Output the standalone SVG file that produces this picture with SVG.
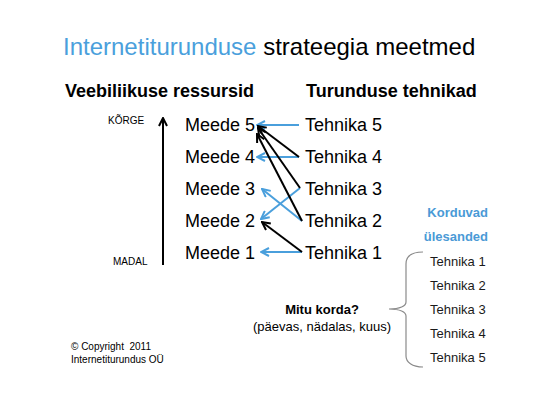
<svg xmlns="http://www.w3.org/2000/svg" width="538" height="402" viewBox="0 0 538 402">
<style>
text{font-family:"Liberation Sans",Arial,sans-serif;fill:#000}
.title{font-size:24px}
.blue{fill:#4a9fdc}
.head{font-size:18px;font-weight:bold}
.item{font-size:18px}
.small{font-size:10px}
.list{font-size:13px;fill:#1a1a1a}
.lbl{font-size:13px;font-weight:bold}
.kb{font-size:13px;font-weight:bold;fill:#4a9ad6}
.copy{font-size:10px}
.cb{stroke:#4a9fdc;stroke-width:2;fill:none}
.ck{stroke:#000;stroke-width:2;fill:none}
</style>
<defs>
<marker id="ab" viewBox="0 0 10 10" refX="9" refY="5" markerWidth="10" markerHeight="10" markerUnits="userSpaceOnUse" orient="auto">
<path d="M1,1 L9,5 L1,9" fill="none" stroke="#4a9fdc" stroke-width="2"/>
</marker>
<marker id="ak" viewBox="0 0 10 10" refX="9" refY="5" markerWidth="10" markerHeight="10" markerUnits="userSpaceOnUse" orient="auto">
<path d="M1,1 L9,5 L1,9" fill="none" stroke="#000" stroke-width="2"/>
</marker>
</defs>
<rect width="538" height="402" fill="#fff"/>
<g id="title"><text class="title" x="63" y="55"><tspan class="blue">Internetiturunduse</tspan> strateegia meetmed</text></g>
<g id="head-left"><text class="head" x="65" y="97">Veebiliikuse ressursid</text></g>
<g id="head-right"><text class="head" x="306" y="97">Turunduse tehnikad</text></g>
<g id="korge"><text class="small" x="108" y="124">KÕRGE</text></g>
<g id="madal"><text class="small" x="113" y="265">MADAL</text></g>
<g id="meede5"><text class="item" x="185" y="131">Meede 5</text></g>
<g id="meede4"><text class="item" x="185" y="163">Meede 4</text></g>
<g id="meede3"><text class="item" x="185" y="195">Meede 3</text></g>
<g id="meede2"><text class="item" x="185" y="227">Meede 2</text></g>
<g id="meede1"><text class="item" x="185" y="259">Meede 1</text></g>
<g id="tehnika5"><text class="item" x="305" y="131">Tehnika 5</text></g>
<g id="tehnika4"><text class="item" x="305" y="163">Tehnika 4</text></g>
<g id="tehnika3"><text class="item" x="305" y="195">Tehnika 3</text></g>
<g id="tehnika2"><text class="item" x="305" y="227">Tehnika 2</text></g>
<g id="tehnika1"><text class="item" x="305" y="259">Tehnika 1</text></g>
<g id="korduvad"><text class="kb" x="488" y="217" text-anchor="end">Korduvad</text><text class="kb" x="488" y="241" text-anchor="end">ülesanded</text></g>
<g id="list">
<text class="list" x="430" y="266">Tehnika 1</text>
<text class="list" x="430" y="290">Tehnika 2</text>
<text class="list" x="430" y="314">Tehnika 3</text>
<text class="list" x="430" y="338">Tehnika 4</text>
<text class="list" x="430" y="362">Tehnika 5</text>
</g>
<g id="mitu"><text class="lbl" x="322" y="314" text-anchor="middle">Mitu korda?</text><text class="list" x="322" y="331" text-anchor="middle" style="fill:#000">(päevas, nädalas, kuus)</text></g>
<g id="copyright"><text class="copy" x="71" y="350" xml:space="preserve">© Copyright  2011</text><text class="copy" x="71" y="363">Internetiturundus OÜ</text></g>
<g id="connectors">
<line class="ck" x1="163" y1="265" x2="163" y2="118" marker-end="url(#ak)"/>
<line class="cb" x1="299" y1="125" x2="257" y2="125" marker-end="url(#ab)"/>
<line class="cb" x1="299" y1="157" x2="257" y2="157" marker-end="url(#ab)"/>
<line class="cb" x1="300" y1="188" x2="261" y2="219" marker-end="url(#ab)"/>
<line class="cb" x1="302" y1="221" x2="262" y2="189" marker-end="url(#ab)"/>
<line class="cb" x1="302" y1="252" x2="261" y2="252" marker-end="url(#ab)"/>
<line class="ck" x1="299" y1="157" x2="258" y2="126" marker-end="url(#ak)"/>
<line class="ck" x1="300" y1="188" x2="258" y2="128" marker-end="url(#ak)"/>
<line class="ck" x1="302" y1="221" x2="257" y2="134" marker-end="url(#ak)"/>
<line class="ck" x1="302" y1="252" x2="262" y2="222" marker-end="url(#ak)"/>
<path d="M423,252 C412,252 406,256 406,264 L406,302 C406,306 400,309 389,309 C400,309 406,312 406,316 L406,356 C406,362 412,367 423,367" fill="none" stroke="#8a8a8a" stroke-width="1.2"/>
</g>
</svg>
